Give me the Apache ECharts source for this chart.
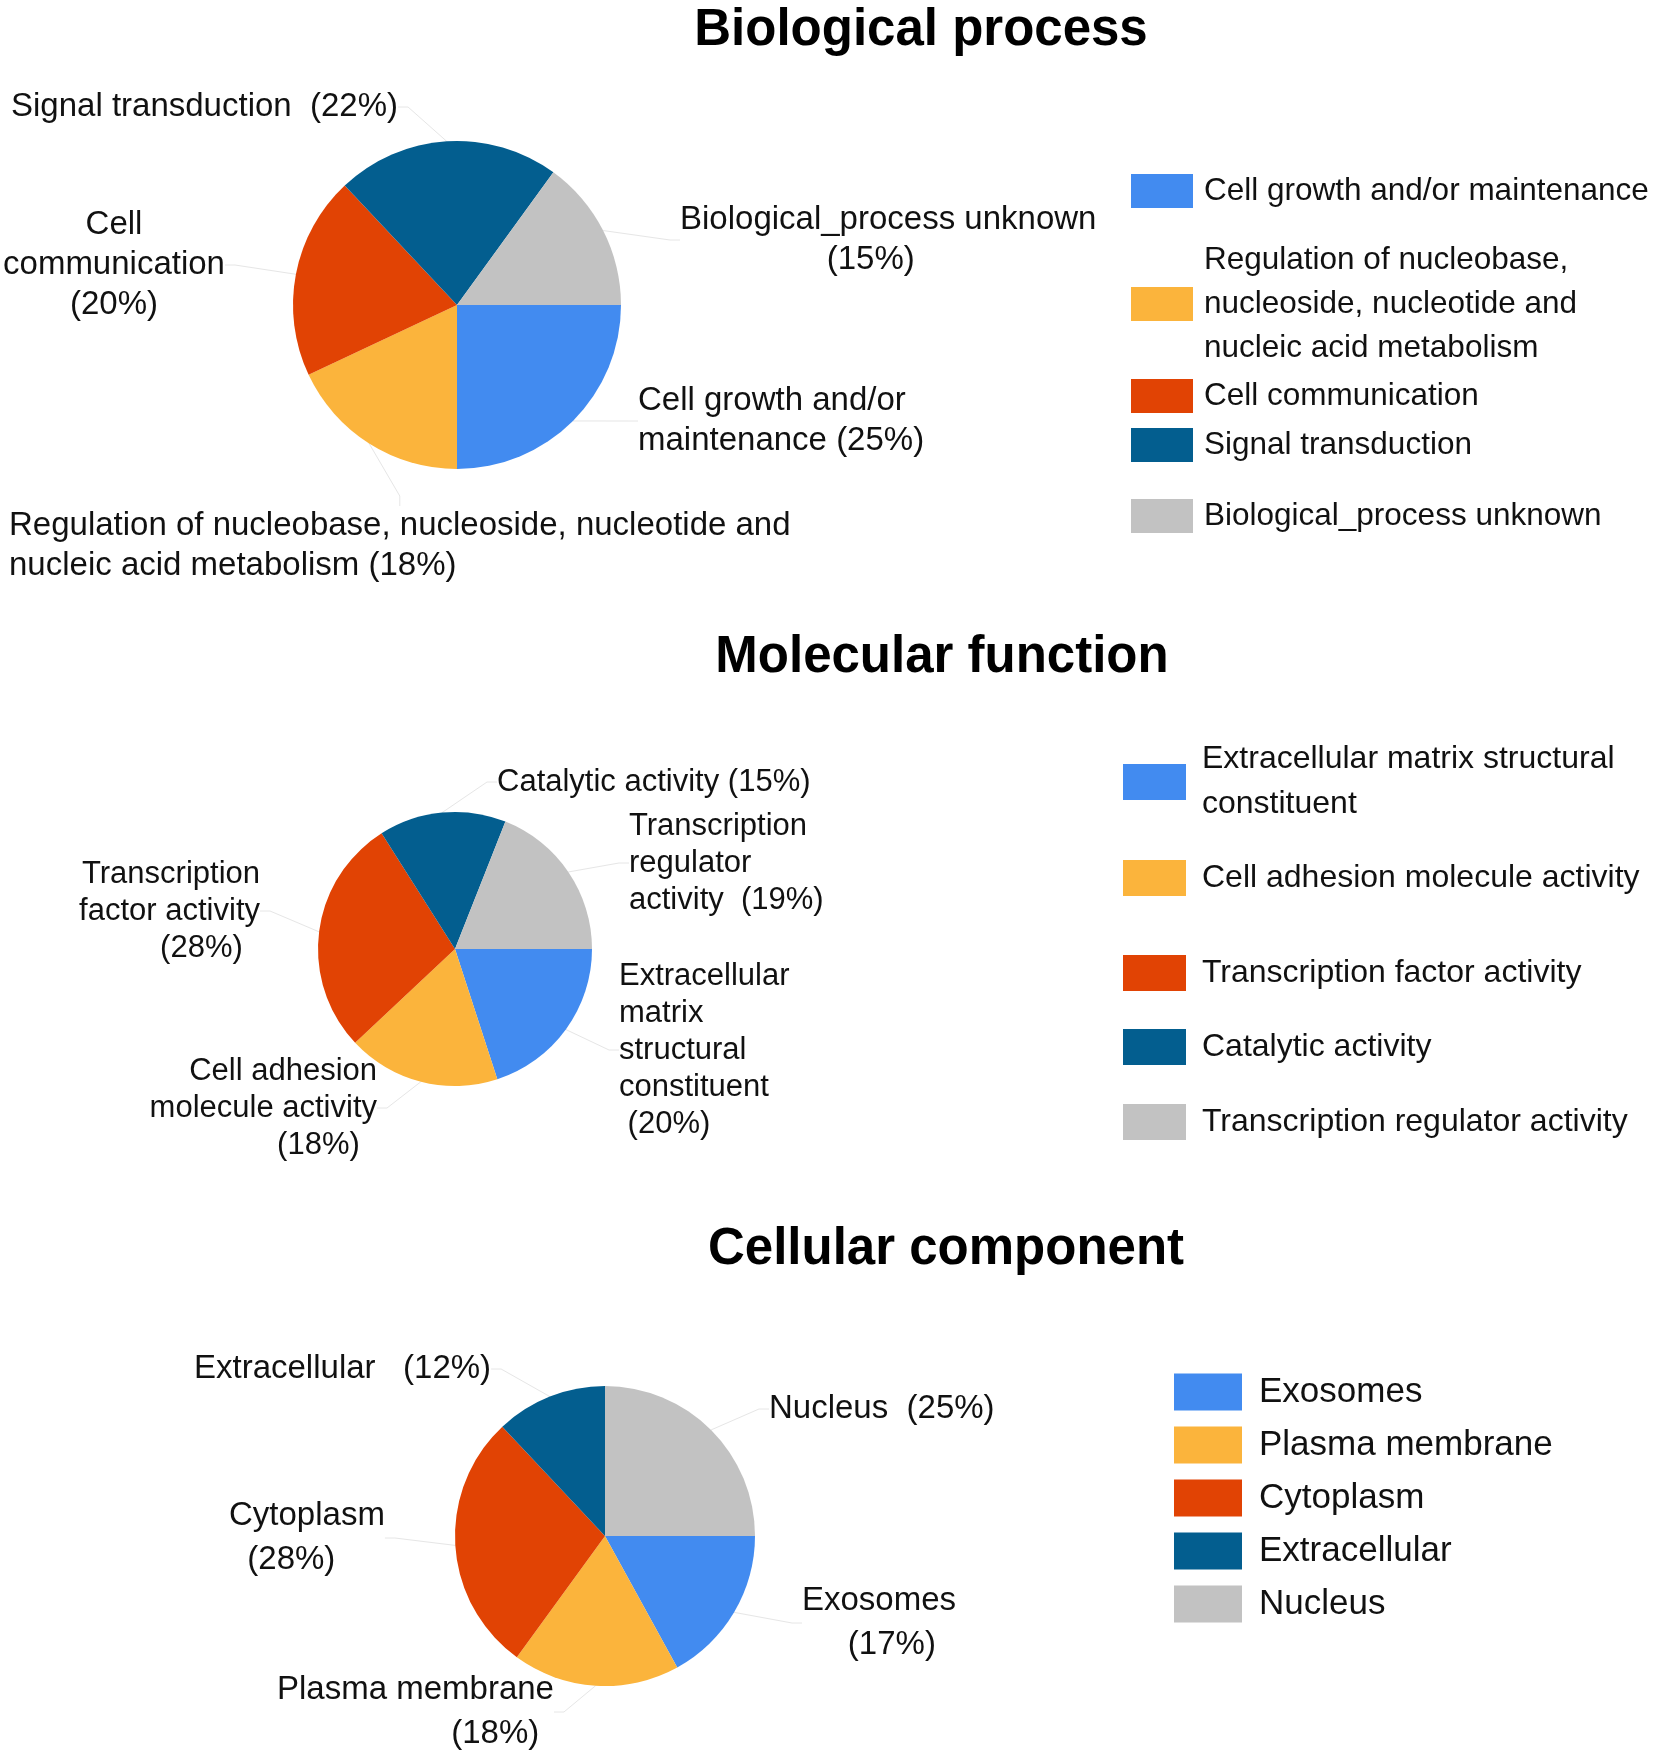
<!DOCTYPE html>
<html><head><meta charset="utf-8">
<script src="https://cdn.jsdelivr.net/npm/echarts@6/dist/echarts.min.js"></script>
<style>html,body{margin:0;padding:0;background:#fff}#c{width:1656px;height:1752px}</style>
</head><body><div id="c"></div>
<script>
// ---------- data ----------
const sliceColors = ['#428BF0', '#FBB43C', '#E14304', '#035E8F', '#C2C2C2'];
const titles = ['Biological process', 'Molecular function', 'Cellular component'];

const bpNames = ['Cell growth and/or maintenance', 'Regulation of nucleobase, nucleoside, nucleotide and nucleic acid metabolism', 'Cell communication', 'Signal transduction', 'Biological_process unknown'];
const bpValues = [25, 18, 20, 22, 15];
const bpLabels = ['Cell growth and/or\nmaintenance ({p}%)', 'Regulation of nucleobase, nucleoside, nucleotide and\nnucleic acid metabolism ({p}%)', 'Cell\ncommunication\n({p}%)', 'Signal transduction  ({p}%)', 'Biological_process unknown\n                ({p}%)'];
const bpLegendText = ['Cell growth and/or maintenance', 'Regulation of nucleobase,\nnucleoside, nucleotide and\nnucleic acid metabolism', 'Cell communication', 'Signal transduction', 'Biological_process unknown'];

const mfNames = ['Extracellular matrix structural constituent', 'Cell adhesion molecule activity', 'Transcription factor activity', 'Catalytic activity', 'Transcription regulator activity'];
const mfValues = [20, 18, 28, 15, 19];
const mfLabels = ['Extracellular\nmatrix\nstructural\nconstituent\n ({p}%)', 'Cell adhesion\nmolecule activity\n({p}%)  ', 'Transcription\nfactor activity\n({p}%)  ', 'Catalytic activity ({p}%)', 'Transcription\nregulator\nactivity  ({p}%)'];
const mfLegendText = ['Extracellular matrix structural\nconstituent', 'Cell adhesion molecule activity', 'Transcription factor activity', 'Catalytic activity', 'Transcription regulator activity'];

const ccNames = ['Exosomes', 'Plasma membrane', 'Cytoplasm', 'Extracellular', 'Nucleus'];
const ccValues = [17, 18, 28, 12, 25];
const ccLabels = ['Exosomes\n     ({p}%)', 'Plasma membrane\n                   ({p}%)', 'Cytoplasm\n  ({p}%)', 'Extracellular   ({p}%)', 'Nucleus  ({p}%)'];

// ---------- layout ----------
const labelFont = "'Liberation Sans', Arial, sans-serif";
const legendFont = "'Liberation Sans', Arial, sans-serif";

const bpLabelPos = [[638, 421, 'left'], [9, 546, 'left'], [114, 265, 'center'], [11, 107, 'left'], [680, 240, 'left']];
const mfLabelPos = [[619, 1050, 'left'], [377, 1108, 'right'], [260, 911, 'right'], [497, 782, 'left'], [629, 863, 'left']];
const ccLabelPos = [[802, 1623, 'left'], [277, 1712, 'left'], [229, 1538, 'left'], [194, 1369, 'left'], [769, 1409, 'left']];

function makePie(names, values, labels, pos, center, radius, fontSize, lineHeight) {
  return {
    type: 'pie',
    center: center,
    radius: radius,
    startAngle: 0,
    clockwise: true,
    avoidLabelOverlap: false,
    animation: false,
    silent: true,
    itemStyle: { borderWidth: 0 },
    data: names.map((n, i) => ({ name: n, value: values[i], itemStyle: { color: sliceColors[i] } })),
    label: {
      show: true,
      position: 'outside',
      color: '#111',
      fontFamily: labelFont,
      fontSize: fontSize,
      lineHeight: lineHeight,
      formatter: p => labels[p.dataIndex].replace('{p}', p.value)
    },
    labelLine: { show: true, length: 10, length2: 10, lineStyle: { color: '#e6e6e6', width: 1 } },
    labelLayout: p => {
      const q = pos[p.dataIndex];
      return { x: q[0], y: q[1], align: q[2], verticalAlign: 'middle' };
    }
  };
}

function itemLegend(name, text, left, cy, w, h, fs, lh, pad) {
  return {
    data: [name], orient: 'vertical', left: left, top: cy - Math.max(h, lh * text.split('\n').length) / 2,
    padding: 0, icon: 'rect', itemWidth: w, itemHeight: h, selectedMode: false,
    formatter: () => text,
    textStyle: { fontFamily: legendFont, fontSize: fs, lineHeight: lh, color: '#111', padding: [0, 0, 0, pad] }
  };
}

const bpLegendY = [191, 304, 396, 445, 516];
const mfLegendY = [782, 878, 973, 1047, 1122];

const legends = [];
bpNames.forEach((n, i) => legends.push(itemLegend(n, bpLegendText[i], 1131, bpLegendY[i], 62, 34, 31.5, 44, 6)));
mfNames.forEach((n, i) => legends.push(itemLegend(n, mfLegendText[i], 1123, mfLegendY[i], 63, 36, 32, 45, 11)));
legends.push({
  data: ccNames, orient: 'vertical', left: 1174, top: 1368, padding: 0, icon: 'rect',
  itemWidth: 68, itemHeight: 37, itemGap: 5, selectedMode: false,
  textStyle: { fontFamily: legendFont, fontSize: 35, lineHeight: 48, color: '#111', padding: [0, 0, 0, 12] }
});

const titlePos = [[921, 31], [942, 658], [946, 1250]];

const chart = echarts.init(document.getElementById('c'), null, { renderer: 'canvas' });
chart.setOption({
  backgroundColor: '#fff',
  animation: false,
  graphic: titles.map((t, i) => ({
    type: 'text', x: titlePos[i][0], y: titlePos[i][1],
    style: { text: t, align: 'center', verticalAlign: 'middle', textAlign: 'center', textVerticalAlign: 'middle',
      fontFamily: "'Liberation Sans', Arial, sans-serif", fontSize: 51, fontWeight: 'bold', fill: '#000' }
  })),
  legend: legends,
  series: [
    makePie(bpNames, bpValues, bpLabels, bpLabelPos, [457, 305], 164, 33, 40),
    makePie(mfNames, mfValues, mfLabels, mfLabelPos, [455, 949], 137, 31, 37),
    makePie(ccNames, ccValues, ccLabels, ccLabelPos, [605, 1536], 150, 33, 44)
  ]
});
</script>
</body></html>
